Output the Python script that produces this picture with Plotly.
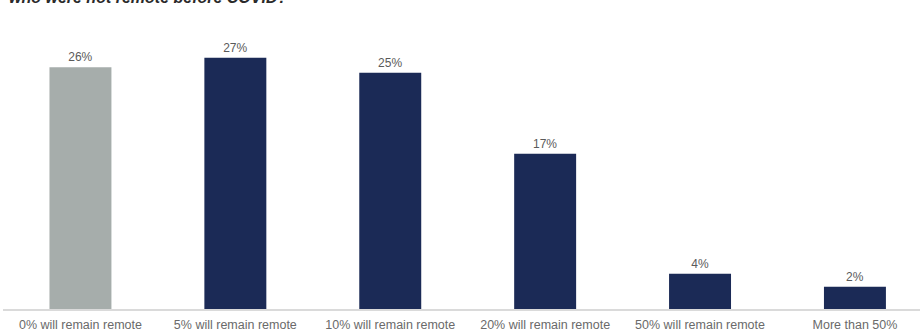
import plotly.graph_objects as go

categories = ["0% will remain remote", "5% will remain remote", "10% will remain remote",
              "20% will remain remote", "50% will remain remote", "More than 50%"]
values = [26.0, 27.0, 25.4, 16.7, 3.8, 2.4]
labels = ["26%", "27%", "25%", "17%", "4%", "2%"]
colors = ["#A6ADAB", "#1B2A56", "#1B2A56", "#1B2A56", "#1B2A56", "#1B2A56"]
title_text = "who were not remote before COVID?"

fig = go.Figure(go.Bar(
    x=categories, y=values, text=labels, textposition="outside",
    textfont=dict(family="Arial, Liberation Sans", size=12, color="#5A5A5A"),
    marker=dict(color=colors, line=dict(width=0)),
    cliponaxis=False,
))

fig.update_layout(
    width=920, height=334,
    margin=dict(l=3, r=0, t=20, b=25),
    paper_bgcolor="white", plot_bgcolor="white",
    bargap=0.6, showlegend=False,
    xaxis=dict(range=[-0.5, 5.42], showline=True, linecolor="#DADADA", linewidth=1.5,
               ticks="", showgrid=False, ticklabelstandoff=3,
               tickfont=dict(family="Arial, Liberation Sans", size=12.5, color="#6A6A6A")),
    yaxis=dict(range=[0, 31.07], visible=False, showgrid=False),
    annotations=[dict(text="<b><i>" + title_text + "</i></b>", xref="paper", yref="paper",
                      x=0.004, y=1.0415, xanchor="left", yanchor="bottom", showarrow=False,
                      font=dict(family="Arial, Liberation Sans", size=16, color="#2A2A2A"))],
)

fig.write_html("out.html")
